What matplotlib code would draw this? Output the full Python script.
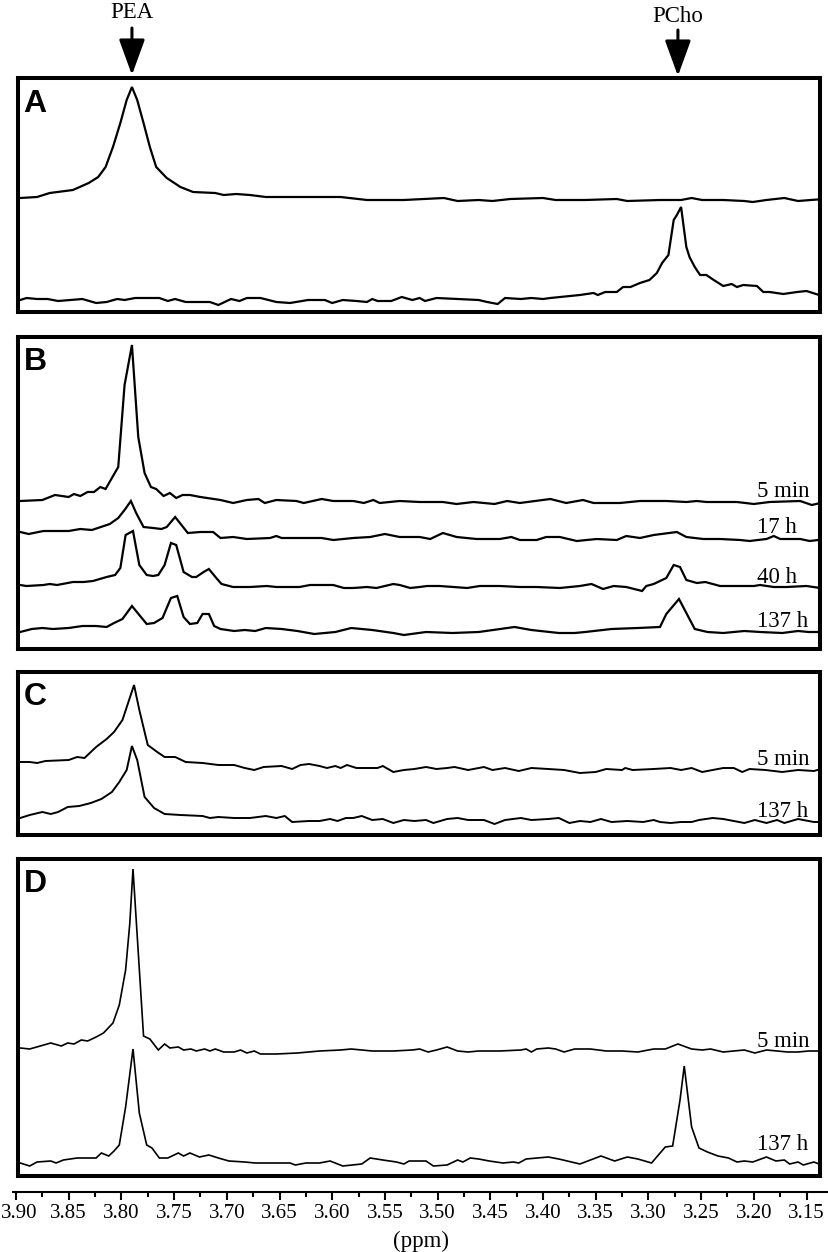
import matplotlib
matplotlib.use("Agg")
import matplotlib.pyplot as plt
from matplotlib.transforms import blended_transform_factory, ScaledTranslation
from matplotlib.ticker import MultipleLocator, FormatStrFormatter

plt.rcParams['font.family'] = ['Liberation Serif', 'DejaVu Serif']

W, H = 829, 1252

# ---------------- panel A ----------------
a_pea_ppm = [3.896, 3.880, 3.868, 3.846, 3.831, 3.822, 3.815, 3.808, 3.801, 3.795,
             3.790, 3.785, 3.779, 3.773, 3.767, 3.757, 3.744, 3.732, 3.711, 3.703,
             3.691, 3.678, 3.663, 3.633, 3.592, 3.567, 3.532, 3.494, 3.481, 3.461,
             3.448, 3.431, 3.400, 3.388, 3.360, 3.330, 3.320, 3.289, 3.269, 3.259,
             3.249, 3.229, 3.209, 3.201, 3.188, 3.171, 3.158, 3.146, 3.133]
a_pea_int = [2, 3, 7, 10, 17, 23, 33, 53, 77, 100,
             113, 100, 77, 53, 33, 22, 13, 8, 7, 5,
             6, 5, 3, 3, 3, 0, 0, 2, -1, 0,
             -1, 1, 2, 0, 0, 1, -1, 0, 0, 2,
             0, 0, -1, -2, 0, 2, -1, 0, 1]

a_pcho_ppm = [3.896, 3.890, 3.880, 3.870, 3.860, 3.837, 3.824, 3.814, 3.804, 3.797,
              3.787, 3.764, 3.756, 3.749, 3.739, 3.716, 3.708, 3.696, 3.688, 3.681,
              3.668, 3.653, 3.640, 3.623, 3.607, 3.600, 3.590, 3.577, 3.567, 3.562,
              3.557, 3.544, 3.534, 3.524, 3.517, 3.512, 3.501, 3.481, 3.461, 3.453,
              3.443, 3.436, 3.421, 3.411, 3.400,
              3.393, 3.365, 3.352, 3.348, 3.341, 3.330, 3.324, 3.317, 3.308, 3.299,
              3.292, 3.287, 3.281, 3.276, 3.273, 3.269, 3.264, 3.261, 3.256, 3.251,
              3.245, 3.238, 3.229, 3.221, 3.216, 3.210, 3.197, 3.191, 3.185, 3.172,
              3.159, 3.150, 3.138]
a_pcho_int = [0, 2, 1, 1, -1, 1, -3, -2, 1, 0,
              2, 2, -1, 1, -2, -2, -5, 1, -1, 2,
              2, -2, -3, 0, 0, -3, 0, -1, -2, 1,
              -1, -1, 3, 0, 2, -1, 2, 1, 0, -2,
              -4, 2, 1, 2, 1,
              2, 5, 7, 5, 8, 8, 13, 13, 17, 20,
              27, 37, 45, 80, 85, 93, 53, 43, 33, 25,
              25, 20, 14, 16, 13, 15, 14, 8, 8, 6,
              8, 9, 5]

# ---------------- panel B ----------------
b_5min_ppm = [3.896, 3.875, 3.863, 3.850, 3.845, 3.839, 3.832, 3.826, 3.820, 3.815,
              3.803, 3.797, 3.790, 3.784, 3.778, 3.772, 3.767, 3.760, 3.754, 3.748,
              3.742, 3.735, 3.725, 3.706, 3.694, 3.681, 3.670, 3.664, 3.653, 3.634,
              3.627, 3.610, 3.599, 3.580, 3.570, 3.561, 3.555, 3.536, 3.517,
              3.495, 3.482, 3.466, 3.446, 3.434, 3.422, 3.393, 3.378, 3.362, 3.352,
              3.327, 3.308, 3.283, 3.264, 3.254, 3.245, 3.216, 3.200, 3.185, 3.156,
              3.145, 3.137]
b_5min_int = [0, 1, 6, 4, 7, 5, 9, 9, 14, 12,
              34, 116, 156, 64, 28, 14, 12, 5, 8, 3,
              6, 6, 4, 1, -2, 1, 2, -2, 1, 0,
              -2, 2, 0, 0, -2, 1, -2, 0, -1,
              -1, -3, -1, -3, 0, -2, 2, -2, 1, -2,
              -2, 0, 0, -1, 0, -1, -1, -3, -1, 0,
              -4, -2]

b_17h_ppm = [3.896, 3.888, 3.874, 3.850, 3.839, 3.828, 3.811, 3.803, 3.797, 3.791,
             3.786, 3.779, 3.770, 3.762, 3.757, 3.749, 3.743, 3.737, 3.725, 3.713,
             3.706, 3.694, 3.681, 3.659, 3.653, 3.648, 3.631, 3.610, 3.599, 3.580,
             3.564, 3.550, 3.536, 3.517,
             3.507, 3.495, 3.482, 3.463, 3.441, 3.430, 3.422, 3.406, 3.397, 3.384,
             3.368, 3.349, 3.330, 3.321, 3.308, 3.295, 3.273, 3.264, 3.248, 3.232,
             3.213, 3.204, 3.188, 3.181, 3.175, 3.156, 3.147, 3.139]
b_17h_int = [4, 2, 5, 5, 7, 6, 12, 18, 26, 35,
             23, 9, 8, 7, 9, 19, 11, 3, 4, 4,
             -2, -1, -3, -2, 0, -2, -2, -2, -4, -2,
             -1, 2, -1, -1,
             -3, 3, -1, -3, -3, -1, -4, -4, -1, -1,
             -5, -3, -4, 0, -2, 1, 4, -1, -3, -3,
             -4, -5, -3, 0, -3, -3, -5, -4]

b_40h_ppm = [3.896, 3.890, 3.874, 3.868, 3.861, 3.846, 3.836, 3.827, 3.814, 3.806,
             3.801, 3.796, 3.789, 3.783, 3.776, 3.770, 3.765, 3.759, 3.753, 3.748,
             3.741, 3.733, 3.729, 3.722, 3.717, 3.710, 3.705, 3.694, 3.678, 3.662,
             3.653, 3.631, 3.621, 3.599, 3.589, 3.580, 3.567, 3.558, 3.542, 3.536,
             3.526, 3.517,
             3.510, 3.498, 3.485, 3.472, 3.460, 3.441, 3.422, 3.406, 3.384, 3.365,
             3.354, 3.343, 3.333, 3.321, 3.306, 3.302, 3.295, 3.283, 3.276, 3.270,
             3.264, 3.254, 3.246, 3.232, 3.216, 3.200, 3.194, 3.181, 3.169, 3.150,
             3.137]
b_40h_int = [2, 1, 2, 3, 2, 5, 5, 6, 10, 12,
             19, 52, 56, 22, 12, 11, 12, 22, 44, 42,
             15, 10, 10, 15, 18, 9, 3, 0, 0, 1,
             0, 0, 2, 2, -1, -1, 0, -1, 3, 2,
             -1, 0,
             1, 1, 0, -1, 1, 1, 0, 0, -1, 1,
             3, -2, 1, 0, -4, 1, 3, 9, 22, 20,
             7, 4, 5, 1, 1, 1, 2, 0, 0, 1,
             -1]

b_137h_ppm = [3.896, 3.885, 3.875, 3.865, 3.850, 3.837, 3.824, 3.814, 3.807, 3.799,
              3.790, 3.783, 3.776, 3.769, 3.761, 3.753, 3.747, 3.741, 3.735, 3.728,
              3.723, 3.717, 3.712, 3.706, 3.693, 3.683, 3.673, 3.663, 3.648, 3.633,
              3.617, 3.597, 3.582, 3.562, 3.542, 3.532, 3.511, 3.486, 3.461, 3.427,
              3.411, 3.385, 3.370, 3.360, 3.335, 3.310, 3.289, 3.283, 3.271, 3.263,
              3.256, 3.244, 3.229, 3.209, 3.194, 3.173, 3.158, 3.148, 3.135]
b_137h_int = [-1, 2, 3, 2, 3, 5, 5, 4, 8, 12,
              25, 16, 7, 8, 13, 33, 35, 14, 7, 8,
              17, 17, 5, 2, 0, 1, 0, 3, 2, 0,
              -3, -1, 3, 1, -2, -4, -1, -2, -1, 4,
              1, -2, -2, -1, 2, 3, 4, 17, 32, 16,
              2, -1, -2, 0, -1, -2, 0, -1, -1]

# ---------------- panel C ----------------
c_5min_ppm = [3.896, 3.887, 3.880, 3.872, 3.850, 3.842, 3.835, 3.824, 3.814, 3.807,
              3.799, 3.788, 3.783, 3.775, 3.766, 3.759, 3.749, 3.739, 3.723, 3.708,
              3.693, 3.683, 3.674, 3.665, 3.648, 3.638, 3.630, 3.622, 3.612, 3.605,
              3.597, 3.592, 3.586, 3.577, 3.567, 3.557, 3.552, 3.542, 3.532, 3.522,
              3.511, 3.501, 3.491, 3.484, 3.471, 3.461, 3.456, 3.448, 3.436, 3.423,
              3.411, 3.395, 3.380, 3.365, 3.350, 3.340, 3.325, 3.322, 3.315, 3.295,
              3.279, 3.269, 3.259, 3.249, 3.229, 3.219, 3.211, 3.204, 3.189, 3.173,
              3.158, 3.143, 3.133]
c_5min_int = [7, 7, 6, 8, 9, 12, 11, 22, 30, 37,
              49, 84, 59, 24, 17, 12, 12, 7, 6, 4,
              4, 1, -1, 2, 3, 0, 4, 5, 3, 1,
              3, 1, 4, 1, 1, 1, 3, -3, -1, 0,
              2, 0, 1, 2, -1, 1, 2, -1, 1, -2,
              1, 0, -1, -4, -3, 0, -1, 1, -1, 0,
              1, -1, 1, -3, 1, 1, -3, 0, -1, -3,
              -1, -2, 1]

c_137h_ppm = [3.896, 3.887, 3.875, 3.867, 3.860, 3.851, 3.840, 3.829, 3.819, 3.809,
              3.802, 3.795, 3.790, 3.785, 3.778, 3.769, 3.759, 3.744, 3.723, 3.716,
              3.708, 3.693, 3.678, 3.663, 3.653, 3.645, 3.638, 3.622, 3.612, 3.602,
              3.595, 3.587, 3.580, 3.572, 3.562, 3.552, 3.542, 3.532, 3.522, 3.511,
              3.504, 3.491, 3.481, 3.471, 3.456, 3.446, 3.436, 3.421, 3.411, 3.395,
              3.385, 3.375, 3.365, 3.355, 3.345, 3.335, 3.320, 3.305, 3.295, 3.289,
              3.279, 3.269, 3.259, 3.252, 3.239, 3.229, 3.214, 3.209, 3.199, 3.188,
              3.178, 3.171, 3.158, 3.143, 3.133]
c_137h_int = [3, 6, 9, 7, 9, 14, 15, 18, 22, 29,
              39, 51, 75, 61, 24, 13, 7, 6, 5, 3,
              4, 3, 3, 5, 3, 5, -1, 0, 0, 2,
              0, 3, 3, 5, 1, 2, -2, 1, 0, 1,
              -2, 2, 3, 1, 1, -3, 1, 3, 1, 2,
              3, -2, 0, -1, 2, -1, 0, -1, 1, -1,
              -2, -1, -1, 1, 3, 2, -1, -2, 1, -2,
              1, -2, 2, -1, -1]

# ---------------- panel D ----------------
d_5min_ppm = [3.896, 3.887, 3.877, 3.867, 3.857, 3.851, 3.845, 3.838, 3.832, 3.824,
              3.817, 3.808, 3.802, 3.796, 3.792, 3.789, 3.779, 3.773, 3.765, 3.759,
              3.754, 3.746, 3.741, 3.734, 3.729, 3.721, 3.716, 3.711, 3.703, 3.693,
              3.687, 3.681, 3.674, 3.668, 3.653, 3.633, 3.612, 3.592, 3.582, 3.562,
              3.542, 3.524, 3.517, 3.509, 3.501, 3.491, 3.481, 3.471, 3.461, 3.441,
              3.421, 3.416, 3.411, 3.406, 3.395, 3.388, 3.380, 3.370, 3.355, 3.340,
              3.325, 3.310, 3.295, 3.284, 3.272, 3.259, 3.249, 3.241, 3.229, 3.219,
              3.209, 3.199, 3.188, 3.178, 3.168, 3.158, 3.148, 3.133]
d_5min_int = [3, 2, 5, 8, 5, 8, 7, 11, 10, 14,
              18, 28, 46, 81, 128, 182, 15, 12, 1, 7,
              3, 4, 1, 2, 0, 2, 0, 2, -1, -1,
              1, -2, 0, -3, -3, -2, 0, 1, 2, 0,
              0, 1, 2, -1, 1, 4, 0, -1, 0, 0,
              1, 2, -1, 2, 3, 2, -1, 2, 2, 0,
              0, -1, 2, 2, 7, 2, 1, 2, -1, 0,
              1, -2, 1, 0, -1, -1, 0, 0]

d_137h_ppm = [3.896, 3.887, 3.880, 3.867, 3.862, 3.855, 3.842, 3.824, 3.819, 3.812,
              3.807, 3.802, 3.796, 3.789, 3.783, 3.776, 3.771, 3.764, 3.756, 3.746,
              3.741, 3.735, 3.726, 3.717, 3.708, 3.698, 3.683, 3.673, 3.653, 3.640,
              3.635, 3.625, 3.612, 3.602, 3.590, 3.572, 3.564, 3.552, 3.539, 3.532,
              3.527, 3.511, 3.504, 3.491, 3.481, 3.476, 3.469, 3.461, 3.451, 3.438,
              3.428, 3.423, 3.416, 3.395, 3.385, 3.365, 3.345, 3.332, 3.320, 3.310,
              3.297, 3.284, 3.277, 3.270, 3.266, 3.259, 3.252, 3.244, 3.234, 3.224,
              3.216, 3.209, 3.201, 3.188, 3.179, 3.171, 3.166, 3.158, 3.153, 3.143,
              3.133]
d_137h_int = [-1, -4, 0, 1, -1, 2, 4, 4, 9, 6,
              11, 17, 55, 113, 49, 17, 14, 4, 4, 9,
              6, 9, 5, 7, 4, 1, 0, -1, -1, -1,
              -3, -1, -1, 1, -4, -2, 4, 2, 0, -2,
              1, 1, -4, -3, 2, 0, 4, 3, 1, -1,
              0, -1, 3, 5, 3, -2, 6, 1, 5, 3,
              -1, 15, 16, 62, 96, 35, 14, 10, 6, 4,
              0, 1, 0, 5, 1, 2, -2, 0, -3, 0,
              -4]

peak_names = ['PEA', 'PCho']
peak_ppm = [3.790, 3.272]

axis_ticks = [3.90, 3.85, 3.80, 3.75, 3.70, 3.65, 3.60, 3.55, 3.50,
              3.45, 3.40, 3.35, 3.30, 3.25, 3.20, 3.15]


def ppm_at(px):
    # shared ppm scale: 3.90 at x=16 px, 0.05 ppm per 52.7 px
    return 3.90 - (px - 16) / 1054.0


# panel layout in pixels: (letter, box top, box bottom, reference bottom, line width,
#   traces (ppm, intensity, offset), labels (text, baseline height))
panels = [
    ('A', 78.3, 312.5, 314, 1.6,
     [(a_pea_ppm, a_pea_int, 114), (a_pcho_ppm, a_pcho_int, 14)],
     []),
    ('B', 337.0, 648.7, 651, 1.6,
     [(b_5min_ppm, b_5min_int, 150), (b_17h_ppm, b_17h_int, 115),
      (b_40h_ppm, b_40h_int, 64), (b_137h_ppm, b_137h_int, 20)],
     [('5 min', 154.3), ('17 h', 118), ('40 h', 68), ('137 h', 24.3)]),
    ('C', 671.7, 835.0, 835, 1.4,
     [(c_5min_ppm, c_5min_int, 66), (c_137h_ppm, c_137h_int, 14)],
     [('5 min', 70), ('137 h', 18.3)]),
    ('D', 858.7, 1175.7, 1177, 1.2,
     [(d_5min_ppm, d_5min_int, 126), (d_137h_ppm, d_137h_int, 15)],
     [('5 min', 130.3), ('137 h', 27)]),
]

fig = plt.figure(figsize=(W / 100, H / 100), dpi=100)

box_left, box_right = 18, 820
label_ppm = ppm_at(757)
axes = []
for letter, top, bot, ref, lw, traces, labels in panels:
    ax = fig.add_axes([box_left / W, 1 - bot / H, (box_right - box_left) / W, (bot - top) / H])
    ax.set_xlim(ppm_at(box_left), ppm_at(box_right))
    ax.set_ylim(ref - bot, ref - top)
    for ppm, inten, off in traces:
        ax.plot(ppm, [v + off for v in inten], color='black', lw=lw,
                solid_joinstyle='miter')
    for txt, yb in labels:
        ax.text(label_ppm, yb, txt, ha='left', va='baseline', fontsize=16.5)
    ax.annotate(letter, xy=(0, 1), xycoords='axes fraction',
                xytext=(4, -24), textcoords='offset points',
                ha='left', va='baseline', fontsize=23, fontweight='bold',
                family='Liberation Sans')
    ax.set_xticks([])
    ax.set_yticks([])
    for sp in ax.spines.values():
        sp.set_linewidth(2.9)
    axes.append(ax)

# peak markers above panel A
ax_a = axes[0]
trans = blended_transform_factory(ax_a.transData, fig.transFigure)
text_base = [18.3, 21.7]
arrow_top = [28, 30]
arrow_tip = [75, 76]
for name, pos, tb, at, ap in zip(peak_names, peak_ppm, text_base, arrow_top, arrow_tip):
    ax_a.text(pos, 1 - tb / H, name, transform=trans, ha='center', va='baseline',
              fontsize=16.5)
    ax_a.annotate('', xy=(pos, 1 - ap / H), xycoords=trans,
                  xytext=(pos, 1 - at / H), textcoords=trans,
                  arrowprops=dict(arrowstyle='-|>,head_length=1.1,head_width=0.4',
                                  mutation_scale=20, lw=2.2, color='black',
                                  shrinkA=0, shrinkB=0),
                  annotation_clip=False)

# shared ppm axis at the bottom
axis_y = 1192
ax_b = fig.add_axes([13 / W, 1 - axis_y / H, (829 - 13) / W, 0.0005])
ax_b.set_xlim(ppm_at(13), ppm_at(829))
for side in ['top', 'left', 'right']:
    ax_b.spines[side].set_visible(False)
ax_b.spines['bottom'].set_linewidth(1.5)
ax_b.patch.set_alpha(0)
ax_b.set_yticks([])
ax_b.set_xticks(axis_ticks)
ax_b.xaxis.set_major_formatter(FormatStrFormatter('%.2f'))
ax_b.xaxis.set_minor_locator(MultipleLocator(0.025))
ax_b.tick_params(axis='x', which='major', direction='out', length=6, width=1.5,
                 labelsize=15, pad=3)
ax_b.tick_params(axis='x', which='minor', direction='out', length=3.5, width=1.5)
ax_b.set_xlabel('(ppm)', fontsize=16.5, labelpad=5)

# keep the first tick label inside the picture
fig.canvas.draw()
first = ax_b.get_xticklabels()[0]
first.set_transform(first.get_transform() + ScaledTranslation(3 / 100, 0, fig.dpi_scale_trans))

fig.savefig('out.png', dpi=100)
